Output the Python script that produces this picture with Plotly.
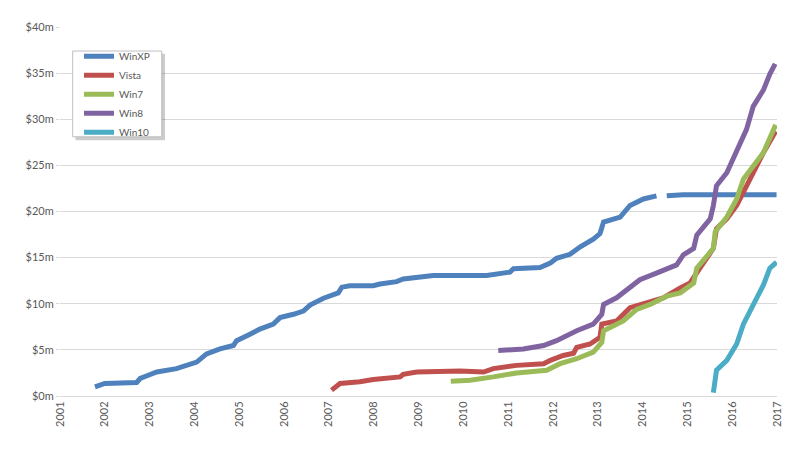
import plotly.graph_objects as go

# ---- data (fractional years, $ millions) ----
xp_x = [2001.78, 2002.0, 2002.71, 2002.79, 2002.97, 2003.16, 2003.6, 2004.05, 2004.27, 2004.57,
        2004.87, 2004.94, 2005.24, 2005.46, 2005.76, 2005.91, 2006.21, 2006.43, 2006.58, 2006.88,
        2007.21, 2007.29, 2007.47, 2007.99, 2008.14, 2008.51, 2008.66, 2009.03, 2009.33, 2009.93,
        2010.52, 2011.04, 2011.12, 2011.71, 2011.94, 2012.08, 2012.38, 2012.61, 2012.90, 2013.05,
        2013.13, 2013.50, 2013.72, 2014.02, 2014.31, 2014.42, 2014.54, 2014.91, 2016.99]
xp_y = [1.0, 1.36, 1.47, 1.9, 2.25, 2.6, 2.97, 3.68, 4.57, 5.1,
        5.47, 6.0, 6.7, 7.25, 7.8, 8.5, 8.86, 9.2, 9.86, 10.6,
        11.18, 11.8, 11.96, 11.96, 12.14, 12.4, 12.68, 12.86, 13.07, 13.07,
        13.07, 13.43, 13.79, 13.93, 14.4, 14.93, 15.36, 16.18, 17.0, 17.61,
        18.86, 19.4, 20.65, 21.36, 21.7, None, 21.7, 21.82, 21.82]

vista_x = [2007.06, 2007.25, 2007.69, 2007.99, 2008.59, 2008.66, 2008.96, 2009.93, 2010.45, 2010.67,
           2011.19, 2011.79, 2011.94, 2012.23, 2012.46, 2012.53, 2012.83, 2013.05, 2013.09, 2013.42,
           2013.72, 2014.02, 2014.46, 2014.84, 2015.06, 2015.28, 2015.58, 2015.65, 2015.88, 2016.10,
           2016.32, 2016.47, 2016.70, 2016.97]
vista_y = [0.64, 1.36, 1.54, 1.79, 2.07, 2.36, 2.6, 2.71, 2.6, 2.97,
           3.32, 3.5, 3.86, 4.39, 4.64, 5.28, 5.64, 6.36, 7.79, 8.14,
           9.57, 10.0, 10.64, 11.71, 12.25, 13.86, 16.0, 18.14, 19.2, 20.65,
           22.8, 24.2, 26.4, 28.7]

win7_x = [2009.72, 2010.15, 2010.67, 2011.19, 2011.86, 2012.16, 2012.53, 2012.90, 2013.09, 2013.13,
          2013.57, 2013.87, 2014.17, 2014.54, 2014.84, 2015.14, 2015.21, 2015.58, 2015.62, 2015.88,
          2016.10, 2016.25, 2016.70, 2016.97]
win7_y = [1.6, 1.71, 2.07, 2.5, 2.79, 3.5, 4.04, 4.75, 5.82, 7.07,
          8.14, 9.39, 9.93, 10.82, 11.18, 12.25, 13.86, 16.0, 17.79, 19.4,
          21.36, 23.5, 26.4, 29.4]

win8_x = [2010.78, 2011.34, 2011.79, 2012.08, 2012.53, 2012.90, 2013.09, 2013.13, 2013.42, 2013.72,
          2013.94, 2014.31, 2014.76, 2014.91, 2015.14, 2015.21, 2015.51, 2015.58, 2015.65, 2015.88,
          2016.10, 2016.32, 2016.47, 2016.70, 2016.84, 2016.96]
win8_y = [4.93, 5.1, 5.47, 6.0, 7.07, 7.79, 8.86, 9.93, 10.64, 11.71,
          12.6, 13.32, 14.21, 15.29, 16.0, 17.43, 19.2, 20.65, 22.8, 24.2,
          26.5, 28.9, 31.4, 33.2, 34.9, 36.0]

win10_x = [2015.58, 2015.62, 2015.65, 2015.88, 2016.10, 2016.25, 2016.47, 2016.70, 2016.84, 2016.99]
win10_y = [0.36, 1.71, 2.79, 3.86, 5.64, 7.79, 9.93, 12.07, 13.86, 14.5]

year_ticks = list(range(2001, 2018))
y_ticks = [0, 5, 10, 15, 20, 25, 30, 35, 40]
y_labels = ["$0m", "$5m", "$10m", "$15m", "$20m", "$25m", "$30m", "$35m", "$40m"]

series = [
    ("WinXP", xp_x, xp_y, "#4F81BD"),
    ("Vista", vista_x, vista_y, "#C0504D"),
    ("Win7", win7_x, win7_y, "#9BBB59"),
    ("Win8", win8_x, win8_y, "#8064A2"),
    ("Win10", win10_x, win10_y, "#4BACC6"),
]

fig = go.Figure()
for name, xs, ys, col in series:
    fig.add_trace(go.Scatter(x=xs, y=ys, name=name, mode="lines",
                             line=dict(color=col, width=5), connectgaps=False))

font = dict(family="Lato, 'Open Sans', sans-serif", size=11, color="#595959")

# page is offset by the 8px body margin; plot area spans page x 60..777, y 23..396
PX0, PX1, PY0, PY1 = 60.0, 777.0, 396.0, 23.0


def px(x):
    return (x - PX0) / (PX1 - PX0)


def py(y):
    return (PY0 - y) / (PY0 - PY1)


# legend shadow and box
fig.add_shape(type="rect", xref="paper", yref="paper",
              x0=px(75.5), x1=px(165), y0=py(137.5), y1=py(50),
              fillcolor="rgba(0,0,0,0.2)", line=dict(width=0), layer="above")
fig.add_shape(type="rect", xref="paper", yref="paper",
              x0=px(72.7), x1=px(161.7), y0=py(134), y1=py(47.3),
              fillcolor="white", line=dict(color="#BFBFBF", width=1), layer="above")

fig.update_layout(
    width=800, height=450,
    margin=dict(l=52, r=31, t=15, b=62),
    paper_bgcolor="white", plot_bgcolor="white",
    font=font,
    showlegend=True,
    legend=dict(x=px(79), y=py(38), xanchor="left", yanchor="top",
                bgcolor="rgba(0,0,0,0)", borderwidth=0,
                font=dict(family="Lato, 'Open Sans', sans-serif", size=10, color="#595959"),
                itemwidth=30, tracegroupgap=0),
    xaxis=dict(range=[2001, 2017], tickmode="array", tickvals=year_ticks,
               ticktext=[str(y) for y in year_ticks], tickangle=-90,
               showgrid=False, zeroline=False, showline=True, linecolor="#D9D9D9",
               ticks="", tickfont=font),
    yaxis=dict(range=[0, 40], tickmode="array", tickvals=y_ticks, ticktext=y_labels,
               showgrid=True, gridcolor="#D9D9D9", gridwidth=1, zeroline=False,
               showline=False, ticks="outside", ticklen=3, tickcolor="#D9D9D9",
               tickfont=font),
)

fig.write_html("out.html")
